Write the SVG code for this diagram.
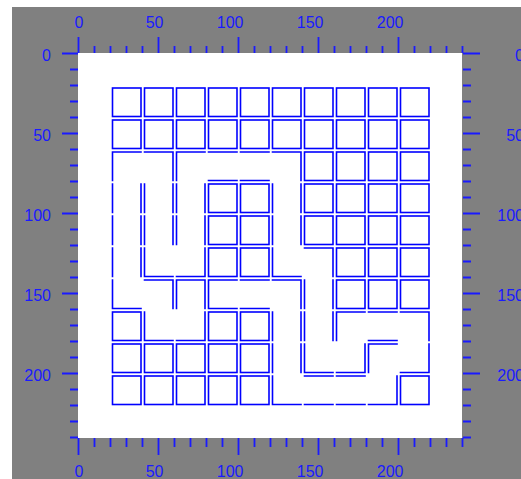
<svg xmlns="http://www.w3.org/2000/svg" xmlns:xlink="http://www.w3.org/1999/xlink" width="521" height="479" viewBox="0 0 521 479">
<style>
.tick{stroke:#1a1aff;stroke-width:1.8;fill:none}
.lbl{font-family:"Liberation Sans",Arial,sans-serif;font-size:16px;fill:#1a1aff}
.sq{fill:none;stroke:#0000ff;stroke-width:1.6}
.wall{fill:none;stroke:#0000ff;stroke-width:1.6;stroke-linecap:square}
</style>
<defs>
<rect id="sq" class="sq" width="28.5" height="28.5"/>
</defs>
<rect x="0" y="0" width="521" height="479" fill="#ffffff"/>
<rect x="12" y="7" width="509" height="472" fill="#808080"/>
<rect x="78" y="53" width="384" height="385" fill="#ffffff"/>
<g id="axes">
<path class="tick" d="M78.5 37V53M94.5 46V53M110.5 46V53M126.5 46V53M142.5 46V53M158.5 37V53M174.5 46V53M190.5 46V53M206.5 46V53M222.5 46V53M238.5 37V53M254.5 46V53M270.5 46V53M286.5 46V53M302.5 46V53M318.5 37V53M334.5 46V53M350.5 46V53M366.5 46V53M382.5 46V53M398.5 37V53M414.5 46V53M430.5 46V53M446.5 46V53M462.5 46V53"/>
<path class="tick" d="M78.5 438V455M94.5 438V447M110.5 438V447M126.5 438V447M142.5 438V447M158.5 438V455M174.5 438V447M190.5 438V447M206.5 438V447M222.5 438V447M238.5 438V455M254.5 438V447M270.5 438V447M286.5 438V447M302.5 438V447M318.5 438V455M334.5 438V447M350.5 438V447M366.5 438V447M382.5 438V447M398.5 438V455M414.5 438V447M430.5 438V447M446.5 438V447M462.5 438V447"/>
<path class="tick" d="M62 53.5H78M70 69.5H78M70 85.5H78M70 101.5H78M70 117.5H78M62 133.5H78M70 149.5H78M70 165.5H78M70 181.5H78M70 197.5H78M62 213.5H78M70 229.5H78M70 245.5H78M70 261.5H78M70 277.5H78M62 293.5H78M70 309.5H78M70 325.5H78M70 341.5H78M70 357.5H78M62 373.5H78M70 389.5H78M70 405.5H78M70 421.5H78M70 437.5H78"/>
<path class="tick" d="M463 53.5H480M463 69.5H471M463 85.5H471M463 101.5H471M463 117.5H471M463 133.5H480M463 149.5H471M463 165.5H471M463 181.5H471M463 197.5H471M463 213.5H480M463 229.5H471M463 245.5H471M463 261.5H471M463 277.5H471M463 293.5H480M463 309.5H471M463 325.5H471M463 341.5H471M463 357.5H471M463 373.5H480M463 389.5H471M463 405.5H471M463 421.5H471M463 437.5H471"/>
<g class="lbl" text-anchor="end">
<text x="83.5" y="28">0</text>
<text x="163.5" y="28">50</text>
<text x="243.5" y="28">100</text>
<text x="323.5" y="28">150</text>
<text x="403.5" y="28">200</text>
<text x="83.5" y="477">0</text>
<text x="163.5" y="477">50</text>
<text x="243.5" y="477">100</text>
<text x="323.5" y="477">150</text>
<text x="403.5" y="477">200</text>
<text x="51" y="60.5">0</text>
<text x="51" y="140.5">50</text>
<text x="51" y="220.5">100</text>
<text x="51" y="300.5">150</text>
<text x="51" y="380.5">200</text>
<text x="524" y="60.5">0</text>
<text x="524" y="140.5">50</text>
<text x="524" y="220.5">100</text>
<text x="524" y="300.5">150</text>
<text x="524" y="380.5">200</text>
</g>
</g>
<g id="blocked-cells">
<use href="#sq" x="112.5" y="88"/><use href="#sq" x="144.5" y="88"/><use href="#sq" x="176.5" y="88"/><use href="#sq" x="208.5" y="88"/><use href="#sq" x="240.5" y="88"/><use href="#sq" x="272.5" y="88"/><use href="#sq" x="304.5" y="88"/><use href="#sq" x="336.5" y="88"/><use href="#sq" x="368.5" y="88"/><use href="#sq" x="400.5" y="88"/>
<use href="#sq" x="112.5" y="120"/><use href="#sq" x="144.5" y="120"/><use href="#sq" x="176.5" y="120"/><use href="#sq" x="208.5" y="120"/><use href="#sq" x="240.5" y="120"/><use href="#sq" x="272.5" y="120"/><use href="#sq" x="304.5" y="120"/><use href="#sq" x="336.5" y="120"/><use href="#sq" x="368.5" y="120"/><use href="#sq" x="400.5" y="120"/>
<use href="#sq" x="304.5" y="152"/><use href="#sq" x="336.5" y="152"/><use href="#sq" x="368.5" y="152"/><use href="#sq" x="400.5" y="152"/>
<use href="#sq" x="208.5" y="184"/><use href="#sq" x="240.5" y="184"/><use href="#sq" x="304.5" y="184"/><use href="#sq" x="336.5" y="184"/><use href="#sq" x="368.5" y="184"/><use href="#sq" x="400.5" y="184"/>
<use href="#sq" x="208.5" y="216"/><use href="#sq" x="240.5" y="216"/><use href="#sq" x="304.5" y="216"/><use href="#sq" x="336.5" y="216"/><use href="#sq" x="368.5" y="216"/><use href="#sq" x="400.5" y="216"/>
<use href="#sq" x="208.5" y="248"/><use href="#sq" x="240.5" y="248"/><use href="#sq" x="336.5" y="248"/><use href="#sq" x="368.5" y="248"/><use href="#sq" x="400.5" y="248"/>
<use href="#sq" x="336.5" y="280"/><use href="#sq" x="368.5" y="280"/><use href="#sq" x="400.5" y="280"/>
<use href="#sq" x="112.5" y="312"/><use href="#sq" x="208.5" y="312"/><use href="#sq" x="240.5" y="312"/>
<use href="#sq" x="112.5" y="344"/><use href="#sq" x="144.5" y="344"/><use href="#sq" x="176.5" y="344"/><use href="#sq" x="208.5" y="344"/><use href="#sq" x="240.5" y="344"/>
<use href="#sq" x="112.5" y="376"/><use href="#sq" x="144.5" y="376"/><use href="#sq" x="176.5" y="376"/><use href="#sq" x="208.5" y="376"/><use href="#sq" x="240.5" y="376"/><use href="#sq" x="400.5" y="376"/>
</g>
<g id="maze-walls">
<path class="wall" d="M112.5 152H141M112.5 152V180.5M144.5 152H173M173 152V180.5M176.5 152H205M176.5 152V180.5M208.5 152H237M208.5 180.5H237M240.5 152H269M240.5 180.5H269M272.5 152H301M301 152V180.5"/>
<path class="wall" d="M112.5 184V212.5M141 184V212.5M144.5 184V212.5M173 184V212.5M176.5 184V212.5M205 184V212.5M272.5 184V212.5M301 184V212.5"/>
<path class="wall" d="M112.5 216V244.5M141 216V244.5M144.5 216V244.5M173 216V244.5M176.5 216V244.5M205 216V244.5M272.5 216V244.5M301 216V244.5"/>
<path class="wall" d="M112.5 248V276.5M141 248V276.5M144.5 248V276.5M144.5 276.5H173M205 248V276.5M176.5 276.5H205M272.5 248V276.5M272.5 276.5H301M304.5 248H333M333 248V276.5"/>
<path class="wall" d="M112.5 280V308.5M112.5 308.5H141M144.5 280H173M173 280V308.5M176.5 280H205M176.5 280V308.5M205 280V308.5M208.5 280H237M208.5 308.5H237M208.5 280V308.5M240.5 280H269M240.5 308.5H269M272.5 280H301M301 280V308.5M304.5 280V308.5M333 280V308.5"/>
<path class="wall" d="M144.5 312V340.5M144.5 340.5H173M205 312V340.5M176.5 340.5H205M272.5 312V340.5M301 312V340.5M304.5 312V340.5M333 312V340.5M336.5 312H365M336.5 312V340.5M368.5 312H397M368.5 340.5H397M400.5 312H429M429 312V340.5"/>
<path class="wall" d="M272.5 344V372.5M301 344V372.5M304.5 344V372.5M304.5 372.5H333M365 344V372.5M336.5 372.5H365M368.5 344H397M368.5 344V372.5M429 344V372.5M400.5 372.5H429"/>
<path class="wall" d="M272.5 376V404.5M272.5 404.5H301M304.5 376H333M304.5 404.5H333M336.5 376H365M336.5 404.5H365M368.5 404.5H397M397 376V404.5"/>
</g>
</svg>
